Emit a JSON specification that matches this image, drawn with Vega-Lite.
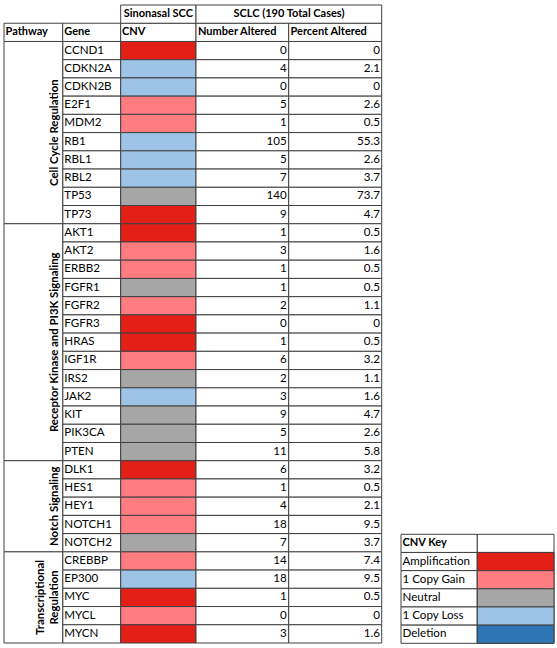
{
  "$schema": "https://vega.github.io/schema/vega-lite/v6.json",
  "width": 557,
  "height": 638,
  "padding": {"left": 0, "top": 5, "right": 0, "bottom": 5},
  "autosize": {"type": "none"},
  "background": "white",
  "config": {
    "view": {"stroke": null},
    "axis": {"disable": true},
    "legend": {"disable": true},
    "text": {"font": "Lato", "fontSize": 11.6, "color": "black", "baseline": "middle"},
    "rect": {"stroke": "#404040", "strokeWidth": 1}
  },
  "datasets": {
    "genes": [
      {"gene": "CCND1", "pathway": "Cell Cycle Regulation", "cnv": "Amplification", "number": 0, "percent": 0},
      {"gene": "CDKN2A", "pathway": "Cell Cycle Regulation", "cnv": "1 Copy Loss", "number": 4, "percent": 2.1},
      {"gene": "CDKN2B", "pathway": "Cell Cycle Regulation", "cnv": "1 Copy Loss", "number": 0, "percent": 0},
      {"gene": "E2F1", "pathway": "Cell Cycle Regulation", "cnv": "1 Copy Gain", "number": 5, "percent": 2.6},
      {"gene": "MDM2", "pathway": "Cell Cycle Regulation", "cnv": "1 Copy Gain", "number": 1, "percent": 0.5},
      {"gene": "RB1", "pathway": "Cell Cycle Regulation", "cnv": "1 Copy Loss", "number": 105, "percent": 55.3},
      {"gene": "RBL1", "pathway": "Cell Cycle Regulation", "cnv": "1 Copy Loss", "number": 5, "percent": 2.6},
      {"gene": "RBL2", "pathway": "Cell Cycle Regulation", "cnv": "1 Copy Loss", "number": 7, "percent": 3.7},
      {"gene": "TP53", "pathway": "Cell Cycle Regulation", "cnv": "Neutral", "number": 140, "percent": 73.7},
      {"gene": "TP73", "pathway": "Cell Cycle Regulation", "cnv": "Amplification", "number": 9, "percent": 4.7},
      {"gene": "AKT1", "pathway": "Receptor Kinase and PI3K Signaling", "cnv": "Amplification", "number": 1, "percent": 0.5},
      {"gene": "AKT2", "pathway": "Receptor Kinase and PI3K Signaling", "cnv": "1 Copy Gain", "number": 3, "percent": 1.6},
      {"gene": "ERBB2", "pathway": "Receptor Kinase and PI3K Signaling", "cnv": "1 Copy Gain", "number": 1, "percent": 0.5},
      {"gene": "FGFR1", "pathway": "Receptor Kinase and PI3K Signaling", "cnv": "Neutral", "number": 1, "percent": 0.5},
      {"gene": "FGFR2", "pathway": "Receptor Kinase and PI3K Signaling", "cnv": "1 Copy Gain", "number": 2, "percent": 1.1},
      {"gene": "FGFR3", "pathway": "Receptor Kinase and PI3K Signaling", "cnv": "Amplification", "number": 0, "percent": 0},
      {"gene": "HRAS", "pathway": "Receptor Kinase and PI3K Signaling", "cnv": "Amplification", "number": 1, "percent": 0.5},
      {"gene": "IGF1R", "pathway": "Receptor Kinase and PI3K Signaling", "cnv": "1 Copy Gain", "number": 6, "percent": 3.2},
      {"gene": "IRS2", "pathway": "Receptor Kinase and PI3K Signaling", "cnv": "Neutral", "number": 2, "percent": 1.1},
      {"gene": "JAK2", "pathway": "Receptor Kinase and PI3K Signaling", "cnv": "1 Copy Loss", "number": 3, "percent": 1.6},
      {"gene": "KIT", "pathway": "Receptor Kinase and PI3K Signaling", "cnv": "Neutral", "number": 9, "percent": 4.7},
      {"gene": "PIK3CA", "pathway": "Receptor Kinase and PI3K Signaling", "cnv": "Neutral", "number": 5, "percent": 2.6},
      {"gene": "PTEN", "pathway": "Receptor Kinase and PI3K Signaling", "cnv": "Neutral", "number": 11, "percent": 5.8},
      {"gene": "DLK1", "pathway": "Notch Signaling", "cnv": "Amplification", "number": 6, "percent": 3.2},
      {"gene": "HES1", "pathway": "Notch Signaling", "cnv": "1 Copy Gain", "number": 1, "percent": 0.5},
      {"gene": "HEY1", "pathway": "Notch Signaling", "cnv": "1 Copy Gain", "number": 4, "percent": 2.1},
      {"gene": "NOTCH1", "pathway": "Notch Signaling", "cnv": "1 Copy Gain", "number": 18, "percent": 9.5},
      {"gene": "NOTCH2", "pathway": "Notch Signaling", "cnv": "Neutral", "number": 7, "percent": 3.7},
      {"gene": "CREBBP", "pathway": "Transcriptional Regulation", "cnv": "1 Copy Gain", "number": 14, "percent": 7.4},
      {"gene": "EP300", "pathway": "Transcriptional Regulation", "cnv": "1 Copy Loss", "number": 18, "percent": 9.5},
      {"gene": "MYC", "pathway": "Transcriptional Regulation", "cnv": "Amplification", "number": 1, "percent": 0.5},
      {"gene": "MYCL", "pathway": "Transcriptional Regulation", "cnv": "1 Copy Gain", "number": 0, "percent": 0},
      {"gene": "MYCN", "pathway": "Transcriptional Regulation", "cnv": "Amplification", "number": 3, "percent": 1.6}
    ],
    "pathways": [
      {"pathway": "Cell Cycle Regulation", "first": "CCND1", "last": "TP73"},
      {"pathway": "Receptor Kinase and PI3K Signaling", "first": "AKT1", "last": "PTEN"},
      {"pathway": "Notch Signaling", "first": "DLK1", "last": "NOTCH2"},
      {"pathway": "Transcriptional Regulation", "first": "CREBBP", "last": "MYCN"}
    ],
    "key": [
      {"label": "CNV Key", "cnv": null},
      {"label": "Amplification", "cnv": "Amplification"},
      {"label": "1 Copy Gain", "cnv": "1 Copy Gain"},
      {"label": "Neutral", "cnv": "Neutral"},
      {"label": "1 Copy Loss", "cnv": "1 Copy Loss"},
      {"label": "Deletion", "cnv": "Deletion"}
    ]
  },
  "layer": [
    {
      "data": {"name": "genes"},
      "encoding": {
        "y": {
          "field": "gene",
          "type": "nominal",
          "scale": {
            "domain": ["h1", "h2", "CCND1", "CDKN2A", "CDKN2B", "E2F1", "MDM2", "RB1", "RBL1", "RBL2", "TP53", "TP73", "AKT1", "AKT2", "ERBB2", "FGFR1", "FGFR2", "FGFR3", "HRAS", "IGF1R", "IRS2", "JAK2", "KIT", "PIK3CA", "PTEN", "DLK1", "HES1", "HEY1", "NOTCH1", "NOTCH2", "CREBBP", "EP300", "MYC", "MYCL", "MYCN"],
            "paddingInner": 0,
            "paddingOuter": 0
          }
        }
      },
      "layer": [
        {"mark": {"type": "rect", "fill": "white"},
         "encoding": {"x": {"datum": 62.7, "type": "quantitative", "scale": {"domain": [0, 557], "nice": false, "zero": false}}, "x2": {"datum": 120.7}}},
        {"mark": {"type": "rect"},
         "encoding": {"x": {"datum": 120.7, "type": "quantitative"}, "x2": {"datum": 196},
           "color": {"field": "cnv", "type": "nominal",
             "scale": {"domain": ["Amplification", "1 Copy Gain", "Neutral", "1 Copy Loss", "Deletion"],
                       "range": ["#E41F17", "#FF7C80", "#A6A6A6", "#9DC3E6", "#2E75B6"]}}}},
        {"mark": {"type": "rect", "fill": "white"},
         "encoding": {"x": {"datum": 196, "type": "quantitative"}, "x2": {"datum": 288.7}}},
        {"mark": {"type": "rect", "fill": "white"},
         "encoding": {"x": {"datum": 288.7, "type": "quantitative"}, "x2": {"datum": 381.7}}},
        {"data": {"name": "pathways"},
         "mark": {"type": "rect", "fill": "white"},
         "encoding": {"x": {"datum": 4, "type": "quantitative"}, "x2": {"datum": 62.7},
           "y": {"field": "first", "type": "nominal", "bandPosition": 0},
           "y2": {"field": "last", "bandPosition": 1}}},
        {"data": {"values": [{}]}, "mark": {"type": "rect", "fill": "white"},
         "encoding": {"x": {"datum": 4, "type": "quantitative"}, "x2": {"datum": 62.7}, "y": {"datum": "h2", "type": "nominal"}}},
        {"data": {"values": [{}]}, "mark": {"type": "rect", "fill": "white"},
         "encoding": {"x": {"datum": 62.7, "type": "quantitative"}, "x2": {"datum": 120.7}, "y": {"datum": "h2", "type": "nominal"}}},
        {"data": {"values": [{}]}, "mark": {"type": "rect", "fill": "white"},
         "encoding": {"x": {"datum": 120.7, "type": "quantitative"}, "x2": {"datum": 196}, "y": {"datum": "h2", "type": "nominal"}}},
        {"data": {"values": [{}]}, "mark": {"type": "rect", "fill": "white"},
         "encoding": {"x": {"datum": 196, "type": "quantitative"}, "x2": {"datum": 288.7}, "y": {"datum": "h2", "type": "nominal"}}},
        {"data": {"values": [{}]}, "mark": {"type": "rect", "fill": "white"},
         "encoding": {"x": {"datum": 288.7, "type": "quantitative"}, "x2": {"datum": 381.7}, "y": {"datum": "h2", "type": "nominal"}}},
        {"data": {"values": [{}]}, "mark": {"type": "rect", "fill": "white"},
         "encoding": {"x": {"datum": 120.7, "type": "quantitative"}, "x2": {"datum": 196}, "y": {"datum": "h1", "type": "nominal"}}},
        {"data": {"values": [{}]}, "mark": {"type": "rect", "fill": "white"},
         "encoding": {"x": {"datum": 196, "type": "quantitative"}, "x2": {"datum": 381.7}, "y": {"datum": "h1", "type": "nominal"}}},
        {"mark": {"type": "text", "align": "left"},
         "encoding": {"x": {"datum": 64.3, "type": "quantitative"}, "text": {"field": "gene", "type": "nominal"}}},
        {"mark": {"type": "text", "align": "right"},
         "encoding": {"x": {"datum": 286.7, "type": "quantitative"}, "text": {"field": "number", "type": "nominal"}}},
        {"mark": {"type": "text", "align": "right"},
         "encoding": {"x": {"datum": 380, "type": "quantitative"}, "text": {"field": "percent", "type": "nominal"}}},
        {"data": {"values": [{}]}, "mark": {"type": "text", "align": "left", "fontWeight": "bold", "fontSize": 11, "text": "Pathway"},
         "encoding": {"x": {"datum": 5.5, "type": "quantitative"}, "y": {"datum": "h2", "type": "nominal"}}},
        {"data": {"values": [{}]}, "mark": {"type": "text", "align": "left", "fontWeight": "bold", "fontSize": 11, "text": "Gene"},
         "encoding": {"x": {"datum": 64.3, "type": "quantitative"}, "y": {"datum": "h2", "type": "nominal"}}},
        {"data": {"values": [{}]}, "mark": {"type": "text", "align": "left", "fontWeight": "bold", "fontSize": 11, "text": "CNV"},
         "encoding": {"x": {"datum": 122, "type": "quantitative"}, "y": {"datum": "h2", "type": "nominal"}}},
        {"data": {"values": [{}]}, "mark": {"type": "text", "align": "left", "fontWeight": "bold", "fontSize": 11, "text": "Number Altered"},
         "encoding": {"x": {"datum": 198, "type": "quantitative"}, "y": {"datum": "h2", "type": "nominal"}}},
        {"data": {"values": [{}]}, "mark": {"type": "text", "align": "left", "fontWeight": "bold", "fontSize": 11, "text": "Percent Altered"},
         "encoding": {"x": {"datum": 290.5, "type": "quantitative"}, "y": {"datum": "h2", "type": "nominal"}}},
        {"data": {"values": [{}]}, "mark": {"type": "text", "align": "center", "fontWeight": "bold", "fontSize": 11, "text": "Sinonasal SCC"},
         "encoding": {"x": {"datum": 158.3, "type": "quantitative"}, "y": {"datum": "h1", "type": "nominal"}}},
        {"data": {"values": [{}]}, "mark": {"type": "text", "align": "center", "fontWeight": "bold", "fontSize": 11, "text": "SCLC (190 Total Cases)"},
         "encoding": {"x": {"datum": 289, "type": "quantitative"}, "y": {"datum": "h1", "type": "nominal"}}},
        {"data": {"values": [{}]}, "mark": {"type": "text", "align": "center", "angle": 270, "fontWeight": "bold", "fontSize": 11.4, "text": "Cell Cycle Regulation"},
         "encoding": {"x": {"datum": 55, "type": "quantitative"}, "y": {"datum": "RB1", "type": "nominal", "bandPosition": 0}}},
        {"data": {"values": [{}]}, "mark": {"type": "text", "align": "center", "angle": 270, "fontWeight": "bold", "fontSize": 11.4, "text": "Receptor Kinase and PI3K Signaling"},
         "encoding": {"x": {"datum": 55, "type": "quantitative"}, "y": {"datum": "HRAS", "type": "nominal"}}},
        {"data": {"values": [{}]}, "mark": {"type": "text", "align": "center", "angle": 270, "fontWeight": "bold", "fontSize": 11.4, "text": "Notch Signaling"},
         "encoding": {"x": {"datum": 55, "type": "quantitative"}, "y": {"datum": "HEY1", "type": "nominal"}}},
        {"data": {"values": [{}]}, "mark": {"type": "text", "align": "center", "angle": 270, "fontWeight": "bold", "fontSize": 11.4, "lineHeight": 14, "text": ["Transcriptional", "Regulation"]},
         "encoding": {"x": {"datum": 41, "type": "quantitative"}, "y": {"datum": "MYC", "type": "nominal"}}}
      ]
    },
    {
      "data": {"name": "key"},
      "encoding": {
        "y": {"field": "label", "type": "nominal",
          "scale": {"domain": ["CNV Key", "Amplification", "1 Copy Gain", "Neutral", "1 Copy Loss", "Deletion"],
                    "range": [529.3, 638.3], "paddingInner": 0, "paddingOuter": 0}}
      },
      "layer": [
        {"mark": {"type": "rect", "fill": "white"},
         "encoding": {"x": {"datum": 401, "type": "quantitative"}, "x2": {"datum": 477.3}}},
        {"mark": {"type": "rect", "fill": "white"},
         "encoding": {"x": {"datum": 477.3, "type": "quantitative"}, "x2": {"datum": 554}}},
        {"transform": [{"filter": "datum.cnv != null"}],
         "mark": {"type": "rect"},
         "encoding": {"x": {"datum": 477.3, "type": "quantitative"}, "x2": {"datum": 554},
           "color": {"field": "cnv", "type": "nominal"}}},
        {"transform": [{"filter": "datum.cnv != null"}],
         "mark": {"type": "text", "align": "left"},
         "encoding": {"x": {"datum": 402.5, "type": "quantitative"}, "text": {"field": "label", "type": "nominal"}}},
        {"transform": [{"filter": "datum.cnv == null"}],
         "mark": {"type": "text", "align": "left", "fontWeight": "bold", "fontSize": 11},
         "encoding": {"x": {"datum": 402.5, "type": "quantitative"}, "text": {"field": "label", "type": "nominal"}}}
      ]
    }
  ],
  "resolve": {"scale": {"y": "independent"}}
}
